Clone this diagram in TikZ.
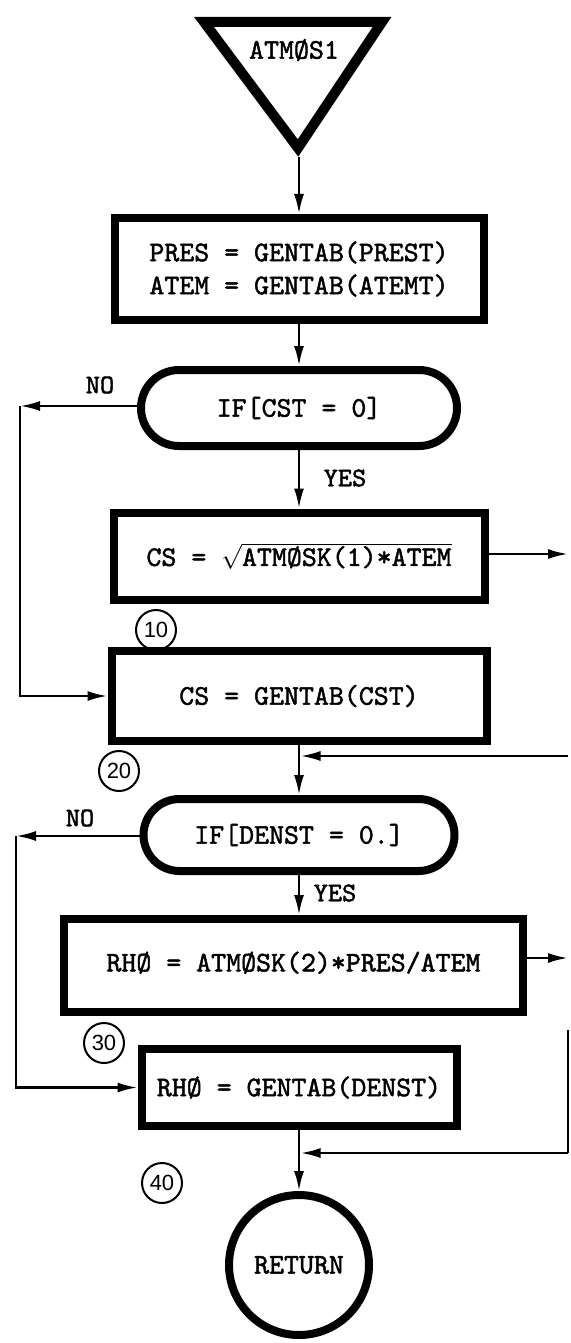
\documentclass[tikz,border=0pt]{standalone}
\usepackage{fontspec}
\newfontfamily\numfont{Liberation Sans}
\newfontfamily\tw{lmmono10-regular.otf}[FakeBold=1.6]
\usetikzlibrary{arrows.meta,shapes.misc}
\begin{document}
\begin{tikzpicture}[x=1pt,y=-1pt,
  every node/.style={font=\tw\fontsize{28.5}{33}\selectfont},
  proc/.style={draw, line width=8pt, inner sep=0pt, align=center},
  dec/.style={draw, rounded rectangle, line width=8pt, inner sep=0pt},
  conn/.style={line width=2.5pt, -{Latex[length=20pt,width=10pt]}},
  plain/.style={line width=2.5pt},
  tag/.style={draw, circle, line width=2pt, minimum size=40pt, inner sep=0pt, font=\numfont\fontsize{22}{22}\selectfont},
  lab/.style={inner sep=0pt, font=\tw\fontsize{27}{27}\selectfont},
]
\useasboundingbox (0,0) rectangle (570,1343);
% start triangle
\draw[line width=10pt, line join=miter] (204,22) -- (382,22) -- (298,148) -- cycle;
\node[inner sep=0pt] (start) at (294,50) {ATMØS1};
\coordinate (apex) at (299,157);
% boxes
\node[proc, minimum width=369pt, minimum height=102pt] (b1) at (299,269) {PRES = GENTAB(PREST)\\ATEM = GENTAB(ATEMT)};
\node[dec, minimum width=316pt, minimum height=76pt] (d1) at (299,408) {IF[CST = 0]};
\node[proc, minimum width=371pt, minimum height=87pt] (b2) at (299,556) {CS = $\sqrt{\mbox{ATMØSK(1)*ATEM}}$};
\node[proc, minimum width=375pt, minimum height=90pt] (b3) at (299,696) {CS = GENTAB(CST)};
\node[dec, minimum width=311pt, minimum height=72pt] (d2) at (299,835) {IF[DENST = 0.]};
\node[proc, minimum width=459pt, minimum height=93pt] (b4) at (293.5,965.5) {\raisebox{8pt}{RHØ = ATMØSK(2)*PRES/ATEM}};
\node[proc, minimum width=315pt, minimum height=77pt] (b5) at (299,1087.5) {RHØ = GENTAB(DENST)};
\node[draw, circle, line width=8pt, minimum size=140pt, inner sep=0pt] (ret) at (299,1265) {RETURN};
% tags
\node[tag] (t10) at (156,630) {10};
\node[tag] (t20) at (119,771) {20};
\node[tag] (t30) at (104,1043) {30};
\node[tag] (t40) at (162,1183) {40};
% labels
\node[lab] (no1) at (100,385) {NO};
\node[lab] (yes1) at (345,478) {YES};
\node[lab] (no2) at (80,818) {NO};
\node[lab] (yes2) at (335,893) {YES};
% coordinates
\coordinate (n1) at (20,406);
\coordinate (n2) at (16,836);
\coordinate (r1) at (568,554);
\coordinate (m1) at (568,756);
\coordinate (r2) at (568,958);
\coordinate (r2b) at (568,1030);
\coordinate (m2) at (568,1153);
% connectors
\draw[conn] (apex) -- (b1.north);
\draw[conn] (b1.south) -- (d1.north);
\draw[conn] (d1.south) -- (b2.north);
\draw[conn] (d1.west |- n1) -- (n1);
\draw[conn] (n1) |- (b3.west);
\draw[conn] (b2.east |- r1) -- (r1);
\draw[conn] (b3.south) -- (d2.north);
\draw[conn] (m1) -- ([xshift=1.5pt]m1 -| b3.south);
\draw[conn] (d2.west |- n2) -- (n2);
\draw[conn] (n2) |- (b5.west);
\draw[conn] (d2.south) -- (d2.south |- b4.north);
\draw[conn] (b4.east |- r2) -- (r2);
\draw[plain] (r2b) -- (m2);
\draw[conn] (m2) -- ([xshift=1.5pt]m2 -| b5.south);
\draw[conn] (b5.south) -- (ret.north);
\end{tikzpicture}
\end{document}
